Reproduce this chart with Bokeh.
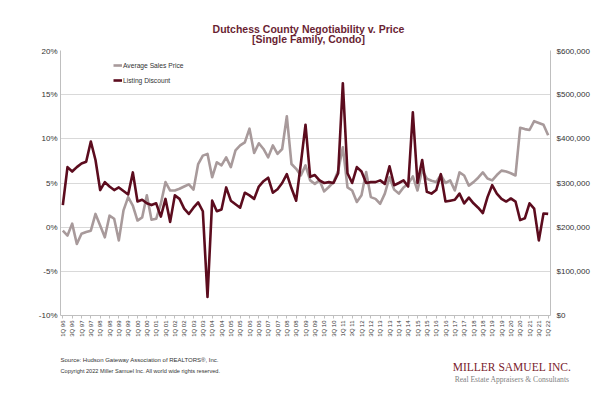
import math
from bokeh.plotting import figure
from bokeh.layouts import column
from bokeh.models import (Range1d, LinearAxis, FixedTicker, NumeralTickFormatter,
                          Legend, LegendItem, Label, ColumnDataSource)
from bokeh.embed import file_html
from bokeh.resources import INLINE

# ---- data -------------------------------------------------------------
# quarterly, 1Q 96 .. 1Q 22 (index 0..104)
quarter_index = list(range(105))

tick_positions = list(range(0, 105, 2))
tick_labels = [
    "1Q 96", "3Q 96", "1Q 97", "3Q 97", "1Q 98", "3Q 98", "1Q 99", "3Q 99",
    "1Q 00", "3Q 00", "1Q 01", "3Q 01", "1Q 02", "3Q 02", "1Q 03", "3Q 03",
    "1Q 04", "3Q 04", "1Q 05", "3Q 05", "1Q 06", "3Q 06", "1Q 07", "3Q 07",
    "1Q 08", "3Q 08", "1Q 09", "3Q 09", "1Q 10", "3Q 10", "1Q 11", "3Q 11",
    "1Q 12", "3Q 12", "1Q 13", "3Q 13", "1Q 14", "3Q 14", "1Q 15", "3Q 15",
    "1Q 16", "3Q 16", "1Q 17", "3Q 17", "1Q 18", "3Q 18", "1Q 19", "3Q 19",
    "1Q 20", "3Q 20", "1Q 21", "3Q 21", "1Q 22",
]

listing_discount = [
    2.5, 6.8, 6.3, 6.8, 7.2, 7.4, 9.7, 7.6, 4.2, 5.1,
    4.6, 4.2, 4.5, 4.1, 3.7, 6.2, 2.9, 3.1, 2.7, 2.5,
    2.7, 1.2, 3.2, 0.6, 3.6, 3.2, 2.1, 1.5, 2.2, 2.8,
    1.8, -7.9, 3.0, 1.8, 2.0, 4.5, 3.0, 2.6, 2.2, 3.9,
    3.6, 3.2, 4.6, 5.2, 5.6, 3.9, 4.3, 5.0, 6.0, 4.4,
    3.0, 7.2, 11.6, 5.7, 5.9, 5.3, 5.0, 5.1, 5.0, 6.1,
    16.3, 6.1, 5.0, 6.8, 6.3, 5.0, 5.1, 5.1, 5.3, 4.9,
    6.9, 4.75, 5.0, 5.3, 4.6, 13.0, 5.0, 7.6, 4.0, 3.8,
    4.2, 6.0, 2.9, 3.0, 3.1, 3.8, 2.7, 3.35, 2.7, 2.2,
    1.6, 3.4, 4.75, 3.8, 3.2, 2.9, 3.25, 2.9, 0.8, 1.0,
    2.7, 2.1, -1.5, 1.55, 1.5,
]

avg_sales_price = [
    192000, 181000, 208000, 162000, 185000, 189000, 192000, 230000, 204000, 177000,
    226000, 219000, 170000, 238000, 268000, 249000, 215000, 222000, 272000, 217000,
    219000, 253000, 302000, 283000, 283000, 287000, 292000, 297000, 285000, 343000,
    362000, 366000, 313000, 347000, 340000, 358000, 336000, 374000, 385000, 392000,
    423000, 368000, 390000, 377000, 358000, 385000, 366000, 377000, 451000, 343000,
    332000, 317000, 340000, 306000, 298000, 306000, 281000, 291000, 302000, 328000,
    381000, 290000, 283000, 257000, 272000, 325000, 268000, 264000, 253000, 276000,
    313000, 285000, 276000, 290000, 298000, 315000, 283000, 330000, 310000, 305000,
    302000, 318000, 300000, 306000, 283000, 324000, 317000, 294000, 302000, 312000,
    324000, 310000, 306000, 318000, 328000, 326000, 322000, 317000, 425000, 422000,
    420000, 440000, 436000, 432000, 408000,
]

pct_ticks = [-10, -5, 0, 5, 10, 15, 20]
price_ticks = [0, 100000, 200000, 300000, 400000, 500000, 600000]

# ---- styling ----------------------------------------------------------
FONT = "Liberation Sans"
SERIF = "Liberation Serif"
DARK = "#5c0c1e"
GREY = "#a89a9b"
TITLE_C = "#6a1f33"
AXIS_C = "#bfbfbf"
TXT_C = "#333333"
W = 592
BL, BR = 60, 41


def blank(height):
    # full-width frame, data units == page pixels (y measured downward)
    f = figure(width=W, height=height, x_range=Range1d(0, W), y_range=Range1d(height, 0),
               x_axis_type=None, y_axis_type=None, output_backend="svg",
               toolbar_location=None, min_border=0)
    f.frame_align = False
    f.outline_line_color = None
    f.xgrid.visible = False
    f.ygrid.visible = False
    f.background_fill_color = "white"
    f.border_fill_color = "white"
    return f


# ---- header -----------------------------------------------------------
header = blank(46)
for txt, y in [("Dutchess County Negotiability v. Price", 28.3),
               ("[Single Family, Condo]", 38.5)]:
    header.add_layout(Label(x=308, y=y, text=txt,
                            text_align="center", text_baseline="alphabetic",
                            text_font=FONT, text_font_style="bold",
                            text_font_size="10.5px", text_color=TITLE_C))

# ---- main chart -------------------------------------------------------
source = ColumnDataSource(dict(q=quarter_index, disc=listing_discount, price=avg_sales_price))

p = figure(width=W, height=299,
           x_range=Range1d(-0.5, 104.5), y_range=Range1d(-10, 20),
           output_backend="svg", toolbar_location=None,
           min_border_left=BL, min_border_right=BR,
           min_border_top=4, min_border_bottom=30)
p.frame_align = False
p.outline_line_color = None
p.background_fill_color = "white"
p.border_fill_color = "white"
p.extra_y_ranges = {"price": Range1d(0, 600000)}

r_price = p.line("q", "price", source=source, y_range_name="price",
                 line_color=GREY, line_width=2.6, line_join="round")
r_disc = p.line("q", "disc", source=source,
                line_color=DARK, line_width=2.6, line_join="round")

xa = p.xaxis[0]
xa.ticker = FixedTicker(ticks=tick_positions, minor_ticks=[])
xa.major_label_overrides = {pos: lab for pos, lab in zip(tick_positions, tick_labels)}
xa.major_label_orientation = math.pi / 2
xa.major_label_text_font = FONT
xa.major_label_text_font_size = "6px"
xa.major_label_text_color = TXT_C
xa.major_label_standoff = 2
xa.major_tick_in = 0
xa.major_tick_out = 3
xa.major_tick_line_color = AXIS_C
xa.axis_line_color = AXIS_C
p.xgrid.visible = False

ya = p.yaxis[0]
ya.ticker = FixedTicker(ticks=pct_ticks, minor_ticks=[])
ya.major_label_overrides = {t: f"{t}%" for t in pct_ticks}
ya.major_label_text_font = FONT
ya.major_label_text_font_size = "8px"
ya.major_label_text_color = TXT_C
ya.major_label_standoff = 3
ya.major_tick_in = 0
ya.major_tick_out = 0
ya.axis_line_color = AXIS_C
p.ygrid.grid_line_color = "#d9d9d9"
p.ygrid.grid_line_width = 1

ra = LinearAxis(y_range_name="price",
                ticker=FixedTicker(ticks=price_ticks, minor_ticks=[]),
                formatter=NumeralTickFormatter(format="$0,0"))
ra.major_label_text_font = FONT
ra.major_label_text_font_size = "8px"
ra.major_label_text_color = TXT_C
ra.major_label_standoff = 6
ra.major_tick_in = 0
ra.major_tick_out = 0
ra.axis_line_color = AXIS_C
p.add_layout(ra, "right")

legend = Legend(items=[LegendItem(label="Average Sales Price", renderers=[r_price]),
                       LegendItem(label="Listing Discount", renderers=[r_disc])],
                location=(53, 229), padding=0, margin=0, spacing=3,
                label_height=12, glyph_height=12, glyph_width=9,
                label_standoff=1,
                label_text_font=FONT, label_text_font_size="6.7px",
                label_text_color=TXT_C,
                border_line_alpha=0, background_fill_alpha=0)
p.add_layout(legend)

# ---- footer -----------------------------------------------------------
footer = blank(44)
footer.add_layout(Label(x=60, y=14, text="Source: Hudson Gateway Association of REALTORS\u00ae, Inc.",
                        text_align="left", text_baseline="alphabetic",
                        text_font=FONT, text_font_size="6px", text_color=TXT_C))
footer.add_layout(Label(x=60, y=25,
                        text="Copyright 2022 Miller Samuel Inc.  All world wide rights reserved.",
                        text_align="left", text_baseline="alphabetic",
                        text_font=FONT, text_font_size="5.6px", text_color=TXT_C))
footer.add_layout(Label(x=511.5, y=21, text="MILLER SAMUEL INC.",
                        text_align="center", text_baseline="alphabetic",
                        text_font=SERIF, text_font_size="11.5px", text_color="#7a1c2c"))
footer.add_layout(Label(x=511.5, y=34, text="Real Estate Appraisers & Consultants",
                        text_align="center", text_baseline="alphabetic",
                        text_font=SERIF, text_font_size="7.6px", text_color="#7f7f7f"))

layout = column(header, p, footer, spacing=0)
open("out.html", "w").write(file_html(layout, INLINE))
